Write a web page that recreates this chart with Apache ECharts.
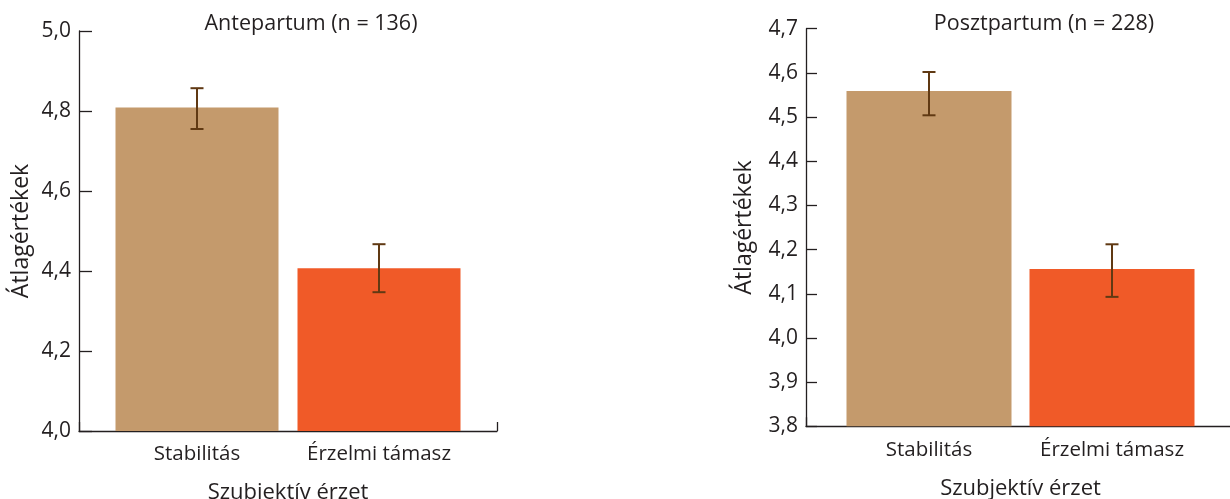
<!DOCTYPE html>
<html><head><meta charset="utf-8">
<script src="https://cdn.jsdelivr.net/npm/echarts/dist/echarts.min.js"></script>
<style>html,body{margin:0;padding:0;background:#fff}#c{width:1230px;height:499px}</style>
</head><body><div id="c"></div>
<script>
const categories = ['Stabilitás', 'Érzelmi támasz'];
const anteMeans = [4.809, 4.407];
const anteLow = [4.755, 4.347];
const anteHigh = [4.857, 4.467];
const postMeans = [4.559, 4.156];
const postLow = [4.504, 4.093];
const postHigh = [4.602, 4.212];
const anteTicks = [4.0, 4.2, 4.4, 4.6, 4.8, 5.0];
const postTicks = [3.8, 3.9, 4.0, 4.1, 4.2, 4.3, 4.4, 4.5, 4.6, 4.7];
const titles = ['Antepartum (n = 136)', 'Posztpartum (n = 228)'];
const yName = 'Átlagértékek';
const xName = 'Szubjektív érzet';
const barColors = ['#C49A6C', '#F05A28'];

const FONT = 'Open Sans';
const FS_TITLE = 21.5;
const FS_NAME = 22;
const FS_YNAME = 23;
const FS_TICK = 21;
const FS_CAT = 20.5;
const TXT = '#231F20';
const ERR = '#603913';
const AX = '#231F20';

const fmt = v => Number(v).toFixed(1).replace('.', ',');

function errData(low, high) {
  return low.map((l, i) => [i, l, high[i]]);
}
function errRender(params, api) {
  const i = api.value(0);
  const top = api.coord([i, api.value(2)]);
  const bot = api.coord([i, api.value(1)]);
  const hw = 6.5;
  const st = { stroke: ERR, lineWidth: 2 };
  return { type: 'group', children: [
    { type: 'line', shape: { x1: top[0], y1: top[1], x2: bot[0], y2: bot[1] }, style: st },
    { type: 'line', shape: { x1: top[0] - hw, y1: top[1], x2: top[0] + hw, y2: top[1] }, style: st },
    { type: 'line', shape: { x1: bot[0] - hw, y1: bot[1], x2: bot[0] + hw, y2: bot[1] }, style: st }
  ]};
}

function axisX(gridIndex) {
  return {
    type: 'category', gridIndex, data: [''], boundaryGap: true,
    axisLine: { show: true, lineStyle: { color: AX, width: 1.3 } },
    axisTick: { show: true, inside: true, length: 9, lineStyle: { color: AX, width: 1.3 } },
    axisLabel: { show: false },
    name: xName, nameLocation: 'middle', nameGap: 51,
    nameTextStyle: { fontFamily: FONT, fontSize: FS_NAME, color: TXT }
  };
}
function barX(gridIndex) {
  return {
    type: 'category', gridIndex, data: categories,
    axisLine: { show: false }, axisTick: { show: false },
    axisLabel: { fontFamily: FONT, fontSize: FS_CAT, color: TXT, margin: 13, interval: 0, hideOverlap: false }
  };
}
function axisY(gridIndex, ticks, tickLen, nameGap) {
  return {
    type: 'value', gridIndex, min: ticks[0], max: ticks[ticks.length - 1],
    interval: +(ticks[1] - ticks[0]).toFixed(2),
    axisLine: { show: true, lineStyle: { color: AX, width: 1.3 } },
    axisTick: { show: true, inside: true, length: tickLen, lineStyle: { color: AX, width: 1.3 } },
    splitLine: { show: false },
    axisLabel: { formatter: fmt, fontFamily: FONT, fontSize: FS_TICK, color: TXT, margin: 8 },
    name: yName, nameLocation: 'middle', nameRotate: 90, nameGap,
    nameTextStyle: { fontFamily: FONT, fontSize: FS_YNAME, color: TXT }
  };
}
function hiddenY(gridIndex, ticks) {
  return {
    type: 'value', gridIndex, min: ticks[0], max: ticks[ticks.length - 1],
    show: false, splitLine: { show: false }
  };
}

const chart = echarts.init(document.getElementById('c'), null, { renderer: 'canvas' });
chart.setOption({
  animation: false,
  backgroundColor: '#fff',
  title: [
    { text: titles[0], left: 306, top: 8, textAlign: 'center',
      textStyle: { fontFamily: FONT, fontSize: FS_TITLE, fontWeight: 'normal', color: TXT } },
    { text: titles[1], left: 1039, top: 8, textAlign: 'center',
      textStyle: { fontFamily: FONT, fontSize: FS_TITLE, fontWeight: 'normal', color: TXT } }
  ],
  grid: [
    { left: 79, top: 31, width: 418, height: 400, outerBoundsMode: 'none', containLabel: false },
    { left: 106, top: 31, width: 364, height: 400, outerBoundsMode: 'none', containLabel: false },
    { left: 806, top: 28.7, width: 429, height: 397.6, outerBoundsMode: 'none', containLabel: false },
    { left: 837.5, top: 28.7, width: 366, height: 397.6, outerBoundsMode: 'none', containLabel: false }
  ],
  xAxis: [axisX(0), barX(1), axisX(2), barX(3)],
  yAxis: [axisY(0, anteTicks, 13, 46), hiddenY(1, anteTicks), axisY(2, postTicks, 11, 50), hiddenY(3, postTicks)],
  series: [
    { type: 'bar', xAxisIndex: 1, yAxisIndex: 1, barWidth: 163,
      data: anteMeans.map((v, i) => ({ value: v, itemStyle: { color: barColors[i] } })) },
    { type: 'custom', xAxisIndex: 1, yAxisIndex: 1, renderItem: errRender,
      encode: { x: 0, y: [1, 2] }, data: errData(anteLow, anteHigh), z: 10 },
    { type: 'bar', xAxisIndex: 3, yAxisIndex: 3, barWidth: 165,
      data: postMeans.map((v, i) => ({ value: v, itemStyle: { color: barColors[i] } })) },
    { type: 'custom', xAxisIndex: 3, yAxisIndex: 3, renderItem: errRender,
      encode: { x: 0, y: [1, 2] }, data: errData(postLow, postHigh), z: 10 }
  ]
});
</script></body></html>
